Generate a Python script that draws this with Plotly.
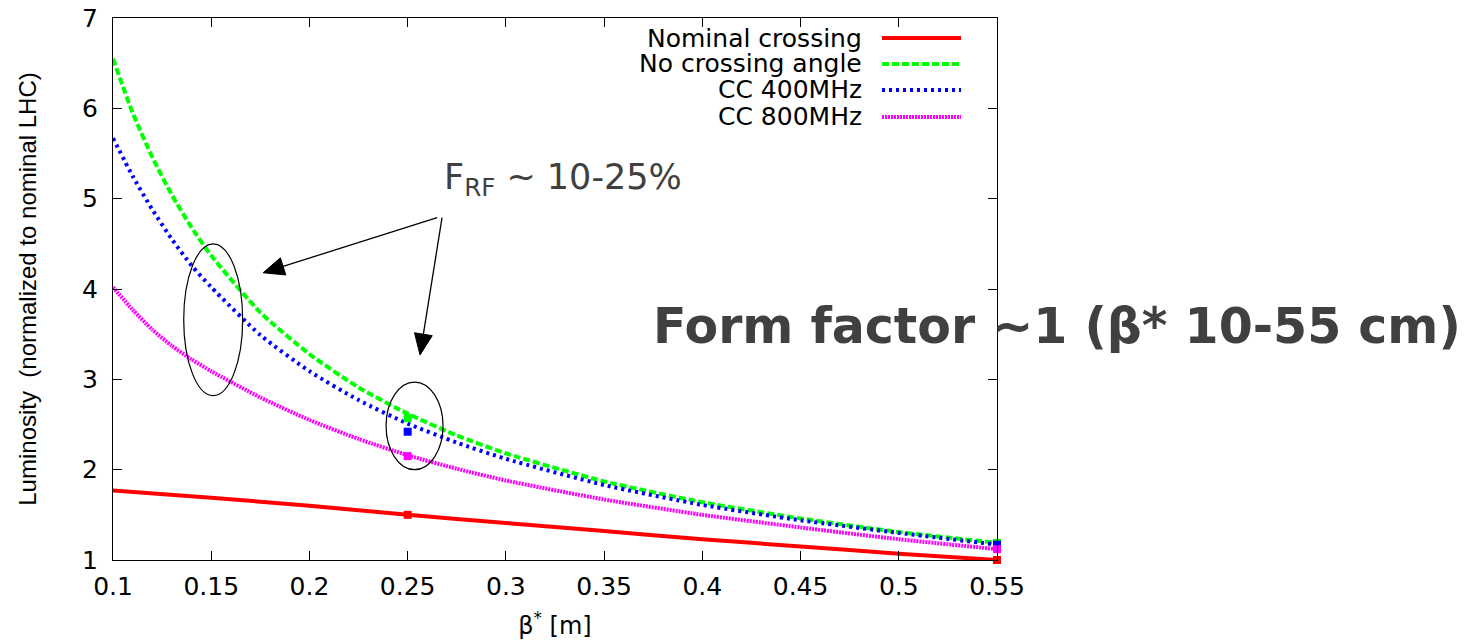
import plotly.graph_objects as go

# ---- data ----
beta = [0.10, 0.11, 0.12, 0.13, 0.14, 0.15, 0.175, 0.20, 0.225, 0.25, 0.275, 0.30, 0.35, 0.40, 0.45, 0.50, 0.55]
no_crossing = [6.55, 5.95, 5.46, 5.04, 4.68, 4.37, 3.74, 3.28, 2.91, 2.62, 2.38, 2.18, 1.87, 1.64, 1.46, 1.31, 1.19]
cc400 = [5.67, 5.25, 4.88, 4.55, 4.26, 4.02, 3.49, 3.09, 2.77, 2.51, 2.30, 2.12, 1.83, 1.61, 1.44, 1.30, 1.17]
cc800 = [4.02, 3.77, 3.55, 3.37, 3.22, 3.09, 2.80, 2.55, 2.34, 2.16, 2.01, 1.88, 1.67, 1.50, 1.36, 1.23, 1.12]
beta_nom = [0.10, 0.15, 0.20, 0.25, 0.30, 0.35, 0.40, 0.45, 0.50, 0.55]
nominal = [1.77, 1.69, 1.60, 1.50, 1.41, 1.32, 1.23, 1.15, 1.07, 1.00]

# computed points (square markers)
beta_pts = [0.25, 0.55]
nominal_pts = [1.50, 1.00]
no_crossing_pts = [2.57, 1.19]
cc400_pts = [2.42, 1.17]
cc800_pts = [2.15, 1.12]

series_names = ["Nominal crossing", "No crossing angle", "CC 400MHz", "CC 800MHz"]
series_colors = ["#ff0000", "#00ff00", "#0000ff", "#ff00ff"]
series_dash = ["solid", "7px,3px", "3px,4px", "2px,1px"]

x_ticks = [0.10, 0.15, 0.20, 0.25, 0.30, 0.35, 0.40, 0.45, 0.50, 0.55]
x_tick_text = ["0.1", "0.15", "0.2", "0.25", "0.3", "0.35", "0.4", "0.45", "0.5", "0.55"]
y_ticks = [1, 2, 3, 4, 5, 6, 7]

X_RANGE = [0.1, 0.55]
Y_RANGE = [1, 7]
W, H = 1482, 640
OFF = 0  # page body margin removed via post_script
ML, MR, MT, MB = 113, 485, 18, 80
PW, PH = W - ML - MR, H - MT - MB


def px_to_paper_x(px):
    return (px - OFF - ML) / PW


def px_to_paper_y(py):
    return (H - MB + OFF - py) / PH


curves = [(beta_nom, nominal), (beta, no_crossing), (beta, cc400), (beta, cc800)]
points = [nominal_pts, no_crossing_pts, cc400_pts, cc800_pts]

fig = go.Figure()
for (xs, ys), name, col, dash in zip(curves, series_names, series_colors, series_dash):
    fig.add_trace(go.Scatter(x=xs, y=ys, mode="lines", name=name,
                             line=dict(color=col, width=4, dash=dash, shape="spline", smoothing=0.6),
                             showlegend=False, cliponaxis=False))
for ys, name, col in zip(points, series_names, series_colors):
    fig.add_trace(go.Scatter(x=beta_pts, y=ys, mode="markers", name=name,
                             marker=dict(color=col, size=8, symbol="square"),
                             showlegend=False, cliponaxis=False))

gfont = "DejaVu Sans"
fig.update_layout(
    width=W, height=H,
    margin=dict(l=ML, r=MR, t=MT, b=MB, autoexpand=False),
    plot_bgcolor="white", paper_bgcolor="white",
    font=dict(family=gfont, size=25, color="black"),
)
fig.update_xaxes(range=X_RANGE, tickvals=x_ticks, ticktext=x_tick_text, automargin=False,
                 ticks="inside", ticklen=9, tickcolor="black", mirror="ticks",
                 showline=True, linecolor="black", linewidth=1, showgrid=False, zeroline=False,
                 tickfont=dict(family=gfont, size=25), ticklabelstandoff=4, ticklabeloverflow="allow",
                 title=dict(text="β<sup>*</sup> [m]", font=dict(family=gfont, size=24), standoff=20))
fig.update_yaxes(range=Y_RANGE, tickvals=y_ticks, automargin=False,
                 ticks="inside", ticklen=9, tickcolor="black", mirror="ticks",
                 showline=True, linecolor="black", linewidth=1, showgrid=False, zeroline=False,
                 tickfont=dict(family=gfont, size=25), ticklabelstandoff=9, ticklabeloverflow="allow",
                 title=dict(text="Luminosity  (normalized to nominal LHC)",
                            font=dict(family="Liberation Sans", size=24), standoff=38))

# custom gnuplot-style legend (text right-aligned, sample to the right)
legend_rows_px = [38, 64, 90, 117]
for name, col, dash, py in zip(series_names, series_colors, series_dash, legend_rows_px):
    yy = px_to_paper_y(py)
    fig.add_annotation(xref="paper", yref="paper", x=px_to_paper_x(864), y=yy, text=name, showarrow=False,
                       xanchor="right", yanchor="middle", font=dict(family=gfont, size=25, color="black"))
    fig.add_shape(type="line", xref="paper", yref="paper", x0=px_to_paper_x(882), x1=px_to_paper_x(961),
                  y0=yy, y1=yy, line=dict(color=col, width=4, dash=dash))

# ellipses
fig.add_shape(type="circle", xref="x", yref="y", x0=0.136, x1=0.166, y0=2.82, y1=4.50,
              line=dict(color="black", width=1.2))
fig.add_shape(type="circle", xref="x", yref="y", x0=0.239, x1=0.268, y0=2.0, y1=2.97,
              line=dict(color="black", width=1.2))

# arrows drawn as shapes (line + filled head)
sx = PW / (X_RANGE[1] - X_RANGE[0])
sy = PH / (Y_RANGE[1] - Y_RANGE[0])


def add_arrow(tail, tip, head_len=21, head_half=9):
    dxp = (tip[0] - tail[0]) * sx
    dyp = (tip[1] - tail[1]) * sy
    L = (dxp ** 2 + dyp ** 2) ** 0.5
    ux, uy = dxp / L, dyp / L
    bx, by = -ux * head_len, -uy * head_len
    nx, ny = -uy * head_half, ux * head_half
    p1 = (tip[0] + (bx + nx) / sx, tip[1] + (by + ny) / sy)
    p2 = (tip[0] + (bx - nx) / sx, tip[1] + (by - ny) / sy)
    base = (tip[0] + bx / sx, tip[1] + by / sy)
    fig.add_shape(type="line", xref="x", yref="y", x0=tail[0], y0=tail[1], x1=base[0], y1=base[1],
                  line=dict(color="black", width=1.3))
    fig.add_shape(type="path", xref="x", yref="y",
                  path=f"M {tip[0]},{tip[1]} L {p1[0]},{p1[1]} L {p2[0]},{p2[1]} Z",
                  fillcolor="black", line=dict(color="black", width=1))


add_arrow((0.265, 4.79), (0.1764, 4.18))
add_arrow((0.2675, 4.79), (0.2563, 3.27))

# text annotations
fig.add_annotation(xref="paper", yref="paper", x=px_to_paper_x(442), y=px_to_paper_y(180),
                   text="F<sub>RF</sub> ~ 10-25%", showarrow=False, xanchor="left", yanchor="middle",
                   font=dict(family=gfont, size=35, color="#404040"))
fig.add_annotation(xref="paper", yref="paper", x=px_to_paper_x(1057), y=px_to_paper_y(326),
                   text="<b>Form factor ~1 (β* 10-55 cm)</b>", showarrow=False, xanchor="center", yanchor="middle",
                   font=dict(family=gfont, size=49, color="#404040"))

fig.write_html("out.html", config={"displayModeBar": False},
               post_script="document.body.style.margin='0';")
